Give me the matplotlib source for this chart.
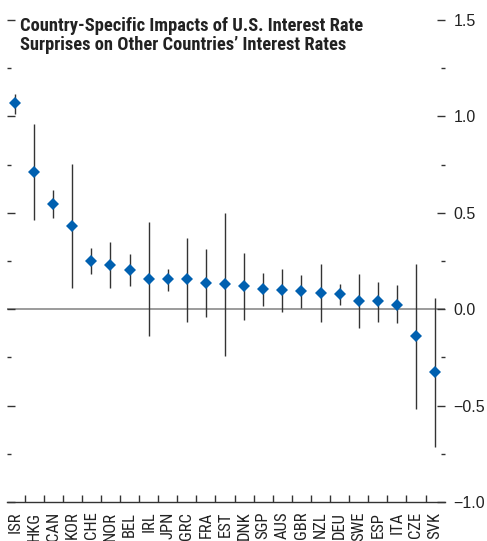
import matplotlib
matplotlib.use("Agg")
import matplotlib.pyplot as plt
from matplotlib.ticker import MultipleLocator, FixedLocator, FuncFormatter
from matplotlib import font_manager

countries = ["ISR", "HKG", "CAN", "KOR", "CHE", "NOR", "BEL", "IRL", "JPN", "GRC", "FRA",
             "EST", "DNK", "SGP", "AUS", "GBR", "NZL", "DEU", "SWE", "ESP", "ITA", "CZE", "SVK"]
estimate = [1.067, 0.71, 0.544, 0.43, 0.249, 0.228, 0.202, 0.155, 0.155, 0.155, 0.138,
            0.13, 0.118, 0.104, 0.10, 0.092, 0.083, 0.078, 0.043, 0.040, 0.024, -0.141, -0.328]
upper = [1.114, 0.958, 0.617, 0.751, 0.316, 0.347, 0.285, 0.452, 0.211, 0.371, 0.311,
         0.501, 0.290, 0.190, 0.211, 0.178, 0.233, 0.133, 0.181, 0.143, 0.124, 0.237, 0.057]
lower = [1.010, 0.461, 0.472, 0.109, 0.181, 0.109, 0.119, -0.140, 0.095, -0.066, -0.038,
         -0.245, -0.055, 0.017, -0.012, 0.004, -0.066, 0.022, -0.095, -0.066, -0.074, -0.518, -0.717]

title = "Country-Specific Impacts of U.S. Interest Rate\nSurprises on Other Countries\u2019 Interest Rates"

installed = {f.name for f in font_manager.fontManager.ttflist}
narrow = None
for cand in ["Roboto Condensed", "Liberation Sans Narrow", "Open Sans Condensed", "Arial Narrow"]:
    if cand in installed:
        narrow = cand
        break

if narrow:
    title_fam = [narrow, "DejaVu Sans"]
    title_size = 13.3
    xl_fam = [narrow, "DejaVu Sans"]
    xl_size = 12
else:
    title_fam = ["Liberation Sans", "DejaVu Sans"]
    title_size = 11.3
    xl_fam = ["Liberation Sans", "DejaVu Sans"]
    xl_size = 10

W, H = 487, 541
fig = plt.figure(figsize=(W / 100, H / 100), dpi=100)
ax = fig.add_axes([7 / W, 1 - 502 / H, (445 - 7) / W, (502 - 20) / H])

x = list(range(len(countries)))
ax.vlines(x, lower, upper, color="#333333", lw=1.0, zorder=2)
ax.plot(x, estimate, linestyle="none", marker="D", markersize=6,
        color="#0060B0", markeredgewidth=0, zorder=3)
ax.axhline(0, color="#8a8a8a", lw=1.2, zorder=1)

ax.set_xlim(-0.42, 22.52)
ax.set_ylim(-1.0, 1.5)

for s in ["top", "left", "right"]:
    ax.spines[s].set_visible(False)
ax.spines["bottom"].set_color("#333333")
ax.spines["bottom"].set_linewidth(1.0)

ax.yaxis.set_major_locator(MultipleLocator(0.5))
ax.yaxis.set_minor_locator(MultipleLocator(0.25))
ax.yaxis.set_major_formatter(FuncFormatter(lambda v, p: f"{v:.1f}".replace("-", "\u2212")))
ax.tick_params(axis="y", which="both", left=True, right=True, labelleft=False,
               labelright=True, direction="in", color="#333333", width=1.0)
ax.tick_params(axis="y", which="major", length=6, pad=6, labelsize=11.5)
ax.tick_params(axis="y", which="minor", length=3)
for lab in ax.get_yticklabels():
    lab.set_family(["Liberation Sans", "DejaVu Sans"])
    lab.set_color("#222222")

ax.xaxis.set_major_locator(FixedLocator(x))
ax.xaxis.set_minor_locator(FixedLocator([i + 0.5 for i in x[:-1]]))
ax.set_xticklabels(countries, rotation=90, va="top", ha="center",
                   family=xl_fam, fontsize=xl_size, color="#222222")
ax.tick_params(axis="x", which="major", length=0, pad=7)
ax.tick_params(axis="x", which="minor", length=5, direction="in", color="#333333", width=1.0)

fig.text(20 / W, 1 - 17 / H, title, ha="left", va="top", fontsize=title_size, fontweight="bold",
         family=title_fam, color="#222222", linespacing=1.1)

fig.savefig("out.png", dpi=100)
